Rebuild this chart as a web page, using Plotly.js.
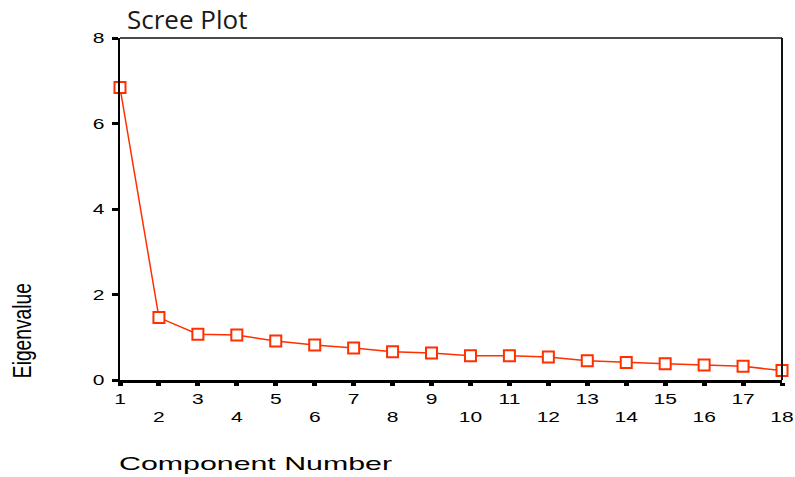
<!DOCTYPE html>
<html>
<head>
<meta charset="utf-8">
<script src="https://cdn.plot.ly/plotly-3.0.1.min.js"></script>
<style>body{margin:0;padding:0;background:#fff;} #chart{width:795px;height:477px;}</style>
</head>
<body>
<div id="chart"></div>
<script>
var components = [1,2,3,4,5,6,7,8,9,10,11,12,13,14,15,16,17,18];
var eigenvalues = [6.84,1.46,1.07,1.05,0.91,0.82,0.75,0.66,0.63,0.57,0.57,0.54,0.45,0.41,0.38,0.35,0.32,0.22];
var oddTicks = [1,3,5,7,9,11,13,15,17];
var evenTicks = [2,4,6,8,10,12,14,16,18];
var yTicks = [0,2,4,6,8];

var red = '#ff2f00';
var trace = {
  x: components, y: eigenvalues, type: 'scatter', mode: 'lines+markers',
  line: {color: red, width: 1.5},
  marker: {symbol: 'square', size: 11, color: '#ffffff', line: {color: red, width: 2}},
  cliponaxis: false, showlegend: false, hoverinfo: 'skip'
};

var tickFont = {family: 'Liberation Sans, Arial, sans-serif', size: 15, color: '#000'};

var layout = {
  width: 795, height: 477,
  margin: {l: 120, r: 13, t: 38, b: 97},
  paper_bgcolor: '#fff', plot_bgcolor: '#fff',
  title: {text: 'Scree Plot', font: {family: 'Open Sans, Noto Sans, sans-serif', size: 26, color: '#1a1a1a'},
          x: 127/795, xanchor: 'left', xref: 'container', y: 1 - 20/477, yanchor: 'middle', yref: 'container'},
  xaxis: {
    range: [1, 18], tickmode: 'array', tickvals: components,
    ticktext: components.map(function(c){ return (c % 2 === 1) ? String(c) : ''; }),
    ticks: 'outside', ticklen: 3, tickwidth: 5, tickcolor: '#000',
    showline: true, linecolor: '#000', linewidth: 2.5,
    showgrid: false, zeroline: false, tickfont: tickFont, ticklabelstandoff: 0
  },
  xaxis2: {
    overlaying: 'x', anchor: 'y', side: 'bottom', matches: 'x', range: [1, 18],
    tickmode: 'array', tickvals: evenTicks, ticktext: evenTicks.map(String),
    ticks: '', showline: false, showgrid: false, zeroline: false,
    tickfont: tickFont, ticklabelstandoff: 26
  },
  yaxis: {
    range: [0, 8], tickmode: 'array', tickvals: yTicks, ticktext: yTicks.map(String),
    ticks: 'outside', ticklen: 6, tickwidth: 3, tickcolor: '#000',
    showline: true, linecolor: '#000', linewidth: 2.5,
    showgrid: false, zeroline: false, tickfont: tickFont, ticklabelstandoff: 4
  },
  shapes: [
    {type: 'line', xref: 'paper', yref: 'paper', x0: 0, x1: 1, y0: 1, y1: 1, line: {color: '#111', width: 1.5}},
    {type: 'line', xref: 'paper', yref: 'paper', x0: 1, x1: 1, y0: 0, y1: 1, line: {color: '#111', width: 2}}
  ],
  annotations: [
    {text: 'Eigenvalue', xref: 'paper', yref: 'paper', x: -98/662, y: (380-331)/342,
     xanchor: 'center', yanchor: 'middle', textangle: -90, showarrow: false,
     font: {family: 'Liberation Sans Narrow, Liberation Sans, sans-serif', size: 26, color: '#000'}},
    {text: 'Component Number', xref: 'paper', yref: 'paper', x: (256-120)/662, y: -(464-380)/342,
     xanchor: 'center', yanchor: 'middle', showarrow: false,
     font: {family: 'Liberation Sans, Arial, sans-serif', size: 19, color: '#000'}}
  ]
};

var evenDummy = {x: [1, 18], y: [null, null], xaxis: 'x2', yaxis: 'y', mode: 'markers', showlegend: false, hoverinfo: 'skip'};

function stretch(el, len) {
  el.setAttribute('textLength', len);
  el.setAttribute('lengthAdjust', 'spacingAndGlyphs');
}

Plotly.newPlot('chart', [trace, evenDummy], layout, {staticPlot: true, displayModeBar: false}).then(function(gd){
  var ticks = gd.querySelectorAll('.xtick text, .x2tick text, .ytick text');
  ticks.forEach(function(t){
    if (t.textContent) stretch(t, t.getComputedTextLength() * 1.4);
  });
  var ann = gd.querySelectorAll('.annotation-text');
  ann.forEach(function(t){
    if (t.textContent === 'Eigenvalue') stretch(t, 95);
    if (t.textContent === 'Component Number') stretch(t, 273);
  });
});
</script>
</body>
</html>
